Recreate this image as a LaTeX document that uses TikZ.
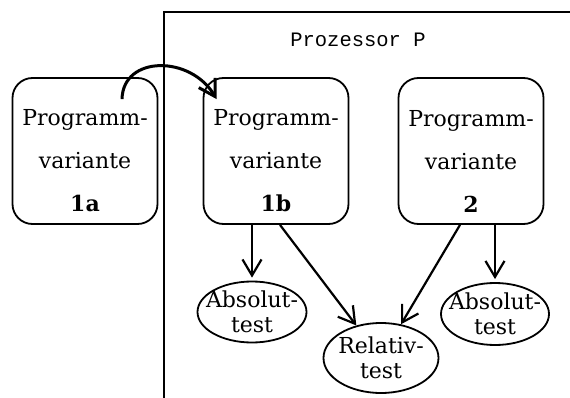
\documentclass[tikz,border=0pt]{standalone}
\usepackage{fontspec}
\setmainfont{DejaVu Serif}
\newfontfamily\prozfont{Liberation Mono}
\usetikzlibrary{shapes, shapes.misc}
\usetikzlibrary{arrows.meta}
\usetikzlibrary{calc}

\begin{document}
\begin{tikzpicture}[x=1pt,y=-1pt,
    variante/.style={draw, rectangle, rounded corners=20pt, line width=1.8pt,
        minimum width=145pt, minimum height=146pt},
    vtext/.style={align=center, inner sep=0pt,
        font=\fontsize{22}{43}\selectfont},
    test/.style={draw, ellipse, line width=1.8pt, inner xsep=-20pt, inner ysep=-18pt,
        align=center, font=\fontsize{22}{25}\selectfont},
    pfeil/.style={>={Straight Barb[length=16pt,width=19pt]}, ->, line width=2.2pt}]
        \useasboundingbox (0,0) rectangle (570,398);
        % Prozessor P
        \draw[line width=1.8pt] (164,398) |- (570,12);
        \node[font=\prozfont\fontsize{20.5}{21}\selectfont] (proz) at (358,40) {Prozessor P};
        % Programmvarianten
        \node[variante] (v1a) at (85,151) {};
        \node[variante] (v1b) at (276,151) {};
        \node[variante] (v2) at (471,151) {};
        \node[vtext, yshift=-10pt] at (v1a.center) {Programm-\\variante\\\textbf{1a}};
        \node[vtext, yshift=-10pt] at (v1b.center) {Programm-\\variante\\\textbf{1b}};
        \node[vtext, yshift=-10pt] at (v2.center) {Programm-\\variante\\\textbf{2}};
        % Tests
        \node[test, minimum width=109pt, minimum height=61pt] (abs1) at (252,312) {Absolut-\\test};
        \node[test, minimum width=115pt, minimum height=70pt] (rel) at (381,358) {Relativ-\\test};
        \node[test, minimum width=108pt, minimum height=62pt] (abs2) at (495,314) {Absolut-\\test};
        % Pfeile
        \draw[pfeil, line width=3pt] ($(v1a.north)+(37,22)$)
            .. controls ($(v1a.north)+(38,-22)$) and ($(v1b.north west)+(-12,-22)$)
            .. ($(v1b.north west)+(14,22)$);
        \draw[pfeil] (abs1.north |- v1b.south) -- ($(abs1.north)+(0,-3)$);
        \draw[pfeil] (abs2.north |- v2.south) -- ($(abs2.north)+(0,-3)$);
        \draw[pfeil] ($(v1b.south)+(4,0)$) -- (rel);
        \draw[pfeil] ($(v2.south)+(-11,0)$) -- (rel);
\end{tikzpicture}
\end{document}
